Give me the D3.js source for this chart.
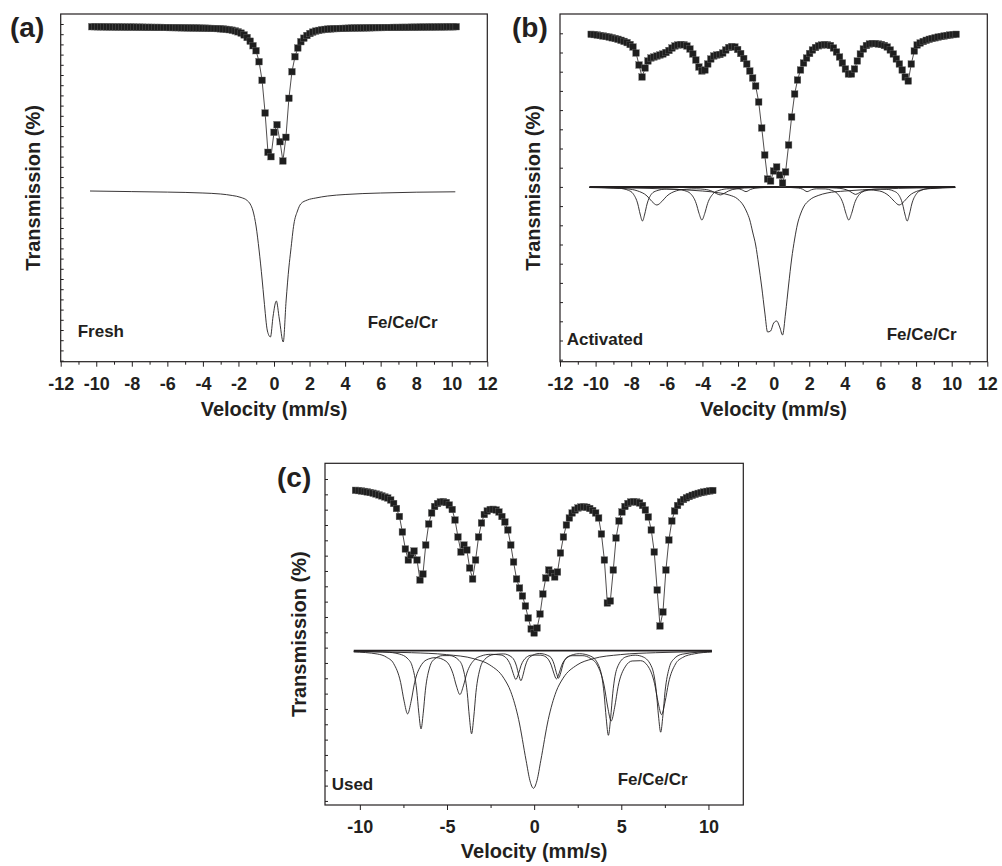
<!DOCTYPE html>
<html>
<head>
<meta charset="utf-8">
<title>Fe/Ce/Cr Mössbauer spectra</title>
<script src="https://cdnjs.cloudflare.com/ajax/libs/d3/7.8.5/d3.min.js"></script>
<style>
  body { margin: 0; background: #fff; }
  svg { display: block; font-family: "Liberation Sans", Arial, sans-serif; }
  .frame { fill: none; stroke: #231f20; stroke-width: 1.2px; }
  .axis path { display: none; }
  .axis line { stroke: #231f20; stroke-width: 1px; }
  .axis text { font-family: "Liberation Sans", Arial, sans-serif; font-size: 18px; font-weight: bold; fill: #231f20; }
  .data-line { fill: none; stroke: #231f20; stroke-width: 0.8px; }
  .point { fill: #1e1e1e; stroke: #666; stroke-width: 0.4px; }
  .fit { fill: none; stroke: #231f20; stroke-width: 0.9px; }
  .fit-base { stroke-width: 1.8px; }
  .title { font-size: 20px; font-weight: bold; fill: #231f20; }
  .tag { font-size: 28px; font-weight: bold; fill: #231f20; }
  .note { font-size: 17px; font-weight: bold; fill: #231f20; }
</style>
</head>
<body>
<svg id="chart" width="1002" height="866"></svg>
<script>
// channel velocities (mm/s), shared by the three spectra
var velocity = [
  -10.25, -10.08, -9.91, -9.74, -9.58, -9.41, -9.24, -9.07, -8.90, -8.74,
  -8.57, -8.40, -8.23, -8.06, -7.90, -7.73, -7.56, -7.39, -7.22, -7.06,
  -6.89, -6.72, -6.55, -6.38, -6.22, -6.05, -5.88, -5.71, -5.54, -5.38,
  -5.21, -5.04, -4.87, -4.70, -4.54, -4.37, -4.20, -4.03, -3.86, -3.70,
  -3.53, -3.36, -3.19, -3.02, -2.86, -2.69, -2.52, -2.35, -2.18, -2.02,
  -1.85, -1.68, -1.51, -1.34, -1.18, -1.01, -0.84, -0.67, -0.50, -0.34,
  -0.17, 0.00, 0.17, 0.34, 0.50, 0.67, 0.84, 1.01, 1.18, 1.34,
  1.51, 1.68, 1.85, 2.02, 2.18, 2.35, 2.52, 2.69, 2.86, 3.02,
  3.19, 3.36, 3.53, 3.70, 3.86, 4.03, 4.20, 4.37, 4.54, 4.70,
  4.87, 5.04, 5.21, 5.38, 5.54, 5.71, 5.88, 6.05, 6.22, 6.38,
  6.55, 6.72, 6.89, 7.06, 7.22, 7.39, 7.56, 7.73, 7.90, 8.06,
  8.23, 8.40, 8.57, 8.74, 8.90, 9.07, 9.24, 9.41, 9.58, 9.74,
  9.91, 10.08, 10.25
];

// measured absorption below the off-resonance level (arb. units, larger = less transmission)
var absFresh = [
  0.0, 0.0, 0.1, 0.1, 0.1, 0.2, 0.2, 0.2, 0.3, 0.3,
  0.3, 0.4, 0.4, 0.4, 0.4, 0.5, 0.5, 0.5, 0.6, 0.6,
  0.6, 0.7, 0.7, 0.7, 0.8, 0.8, 0.9, 0.9, 1.0, 1.0,
  1.1, 1.1, 1.2, 1.2, 1.3, 1.3, 1.4, 1.5, 1.5, 1.6,
  1.7, 1.8, 1.9, 2.1, 2.3, 2.6, 3.0, 3.5, 4.2, 5.1,
  6.4, 8.2, 10.8, 14.5, 19, 24, 35, 53.6, 86.3, 125.6,
  130, 105.6, 98, 115, 134.3, 110.6, 71.6, 45, 30, 21.3,
  15, 11.5, 8.8, 6.8, 5.4, 4.4, 3.7, 3.1, 2.7, 2.4,
  2.2, 2.0, 1.9, 1.8, 1.7, 1.6, 1.5, 1.4, 1.3, 1.3,
  1.2, 1.2, 1.1, 1.1, 1.0, 1.0, 0.9, 0.9, 0.8, 0.8,
  0.8, 0.7, 0.7, 0.7, 0.6, 0.6, 0.6, 0.5, 0.5, 0.5,
  0.4, 0.4, 0.4, 0.3, 0.3, 0.3, 0.2, 0.2, 0.2, 0.1,
  0.1, 0.1, 0.0
];

var absActivated = [
  0.3, 0.6, 1.0, 1.5, 2.0, 2.5, 3.1, 3.8, 4.5, 5.3,
  6.3, 7.4, 8.6, 10.5, 13, 19, 31, 43, 34, 27,
  24, 23, 22, 21, 20, 18.5, 16.5, 14, 12, 11,
  10.5, 10.8, 12, 15, 20, 26, 33, 37, 36, 30,
  25, 22, 21, 20.5, 19, 16, 13.5, 12.5, 13, 15.5,
  19.5, 24.5, 30, 37, 44, 52, 68, 94, 121, 145,
  147, 137, 133, 141, 149, 138, 111, 83, 60, 46,
  36, 29, 24, 19.5, 16, 13.5, 11.8, 11, 10.7, 10.8,
  11.5, 14, 18, 23, 29, 35, 40, 40, 35, 27,
  20, 15, 11.5, 10, 9.5, 9.6, 10, 10.5, 11.5, 13,
  16, 20, 25, 30, 36, 43, 47, 30, 17, 11,
  9, 7.5, 6.3, 5.3, 4.5, 3.8, 3.1, 2.5, 2.0, 1.5,
  1.0, 0.6, 0.3
];

var absUsed = [
  0.3, 0.6, 1.0, 1.4, 1.9, 2.5, 3.2, 4.0, 4.9, 5.9,
  7.0, 8.0, 10, 13.5, 18.5, 26.5, 42, 59, 70, 65,
  61, 70, 90, 84, 55, 34, 23, 16.5, 13.5, 12,
  11.7, 12.5, 15, 19.5, 30, 47, 62, 55, 60, 78,
  89, 70, 47, 33, 24.5, 21, 19.5, 19.3, 20, 22,
  26.5, 32, 40, 55, 72, 89, 98, 106, 116, 128,
  139, 143, 138, 124, 104, 88, 80, 83, 87, 82,
  63, 47, 35, 28, 23, 20, 18, 17, 16.8, 17.3,
  18.5, 20.5, 23, 28, 44, 70, 113, 111, 80, 48,
  31, 22, 16.5, 13.5, 12, 11.7, 12, 13, 15.5, 20,
  27, 40, 62, 100, 136, 122, 80, 50, 31, 21,
  15.5, 12, 9.5, 7.8, 6.5, 5.3, 4.3, 3.4, 2.6, 2.0,
  1.4, 0.9, 0.5
];

// fitted sub-spectra: [velocity, absorption below the shifted fit baseline]
var fitFresh = [
  [-10.35, 0], [-8, 0.6], [-6, 1.1], [-4, 2], [-3, 3], [-2.35, 4.5], [-1.85, 6.5],
  [-1.51, 9.5], [-1.34, 13], [-1.18, 20], [-1.01, 35], [-0.84, 59], [-0.67, 88],
  [-0.56, 109], [-0.37, 140], [-0.2, 146], [-0.05, 125], [0.13, 110], [0.30, 128],
  [0.52, 151], [0.68, 110], [0.84, 76], [0.94, 60], [1.12, 33], [1.32, 20], [1.5, 13],
  [1.88, 9], [2.35, 7], [3.02, 5], [4, 3.5], [6, 2], [8, 1.2], [10.2, 0.8]
];

var fitBaseline = [[-10.35, 0], [10.2, 0]];

var fitActDoublet = [
  [-10.35, 0.5], [-8, 1], [-6, 2], [-4, 4], [-3, 6], [-2.5, 8], [-2.02, 12], [-1.68, 19],
  [-1.51, 25], [-1.34, 33], [-1.18, 45], [-1.01, 58], [-0.84, 78], [-0.67, 100],
  [-0.50, 125], [-0.34, 145], [-0.17, 144], [0, 136], [0.17, 134], [0.34, 140],
  [0.50, 148], [0.67, 126], [0.84, 98], [1.01, 72], [1.18, 52], [1.34, 37], [1.51, 27],
  [1.68, 20], [2.02, 13], [2.5, 8.5], [3, 6], [4, 4], [6, 2], [8, 1], [10.2, 0.5]
];

var fitActSextetA = [
  [-10.35, 0.3], [-8.67, 1.3], [-8.15, 3.4], [-7.89, 6.8], [-7.63, 17], [-7.50, 27],
  [-7.37, 34], [-7.24, 27], [-7.11, 17], [-6.85, 6.8], [-6.59, 3.9], [-6.0, 2.0],
  [-5.4, 2.3], [-4.99, 3.7], [-4.67, 6.6], [-4.35, 16.5], [-4.19, 26.4], [-4.03, 33],
  [-3.87, 26.4], [-3.71, 16.5], [-3.39, 6.6], [-3.07, 3.4], [-2.5, 1.7], [-2.0, 1.7],
  [-1.8, 2.7], [-1.55, 4.6], [-1.3, 2.5], [-1.05, 1.2], [-0.5, 0.5], [0.5, 0.3],
  [1.38, 1.0], [1.63, 2.2], [1.88, 4.6], [2.13, 2.7], [2.4, 1.8], [2.9, 1.9],
  [3.26, 3.4], [3.58, 6.6], [3.90, 16.5], [4.06, 26.4], [4.22, 33], [4.38, 26.4],
  [4.54, 16.5], [4.86, 6.6], [5.18, 3.7], [5.8, 2.1], [6.35, 2.35], [6.72, 3.9],
  [6.98, 6.8], [7.24, 17], [7.37, 27], [7.50, 34], [7.63, 27], [7.76, 17],
  [8.02, 6.8], [8.28, 3.4], [8.8, 1.3], [10.2, 0.3]
];

var fitActSextetB = [
  [-10.35, 0.5], [-9.0, 1.0], [-8.2, 1.9], [-7.66, 3.8], [-7.11, 9], [-6.84, 14.4],
  [-6.56, 18], [-6.28, 14.5], [-6.01, 9.2], [-5.46, 3.8], [-4.9, 2.2], [-4.35, 1.8],
  [-3.9, 2.3], [-3.45, 4.3], [-3.22, 6.5], [-3.0, 7.9], [-2.78, 6.4], [-2.55, 4.1],
  [-2.1, 1.8], [-1.2, 0.7], [0, 0.5], [1.5, 0.4], [2.8, 0.6], [3.55, 1.1], [3.9, 1.85],
  [4.25, 4.0], [4.43, 6.0], [4.6, 7.4], [4.77, 6.2], [4.95, 4.5], [5.3, 2.9],
  [5.95, 4.0], [6.5, 9.2], [6.78, 14.4], [7.05, 18], [7.33, 14.4], [7.6, 9],
  [8.15, 3.6], [8.8, 1.6], [10.2, 0.5]
];

var fitUsedSinglet = [
  [-10.35, 1.0], [-7.04, 2.0], [-5.04, 3.9], [-3.44, 8.1], [-2.54, 14.3], [-1.74, 27.5],
  [-1.34, 41], [-0.89, 68.8], [-0.46, 110], [-0.24, 130], [-0.04, 137.6], [0.16, 130],
  [0.38, 110], [0.81, 68.8], [1.26, 41], [1.66, 27.5], [2.46, 14.3], [3.36, 8.1],
  [4.96, 3.9], [6.96, 2.0], [10.2, 0.9]
];

var fitUsedSextet1 = [
  [-10.35, 1.2], [-9.0, 3.3], [-8.46, 6.6], [-8.06, 12.9], [-7.66, 31.8], [-7.46, 50.5],
  [-7.26, 63.2], [-7.06, 50.7], [-6.86, 32], [-6.46, 13.9], [-6.06, 8.3], [-5.66, 6.9],
  [-5.06, 10.5], [-4.66, 22.8], [-4.46, 35.3], [-4.26, 43.8], [-4.06, 35.2], [-3.86, 22.4],
  [-3.46, 9.6], [-3.06, 5.4], [-2.5, 3.6], [-1.95, 4.2], [-1.65, 6.5], [-1.35, 14.7],
  [-1.2, 22.8], [-1.05, 28.8], [-0.9, 23.1], [-0.75, 14.7], [-0.45, 6.7], [-0.15, 4.5],
  [0.1, 4.4], [0.38, 4.5], [0.68, 6.3], [0.98, 14.4], [1.13, 22.6], [1.28, 28.2],
  [1.43, 22.7], [1.58, 14.6], [1.88, 7.2], [2.18, 5.0], [2.8, 5], [3.22, 7.6],
  [3.62, 14.4], [4.02, 35.3], [4.22, 56.3], [4.42, 70.3], [4.62, 56.5], [4.82, 35.6],
  [5.22, 16.2], [5.62, 10.3], [6.11, 10], [6.51, 15], [6.91, 33], [7.11, 51.5],
  [7.31, 63.9], [7.51, 51.2], [7.71, 32.3], [8.11, 13.3], [8.51, 6.9], [9.2, 3.1],
  [10.2, 1.3]
];

var fitUsedSextet2 = [
  [-10.35, 0.5], [-8.5, 1.4], [-7.74, 3.3], [-7.24, 8.2], [-6.99, 15.9], [-6.74, 39.3],
  [-6.615, 62.5], [-6.49, 78.2], [-6.365, 62.6], [-6.24, 39.5], [-5.99, 16.3], [-5.74, 8.7],
  [-5.24, 4.9], [-4.84, 4.9], [-4.34, 9.2], [-4.09, 17.2], [-3.84, 41.9], [-3.715, 66.5],
  [-3.59, 83.1], [-3.465, 66.5], [-3.34, 41.8], [-3.09, 17], [-2.84, 8.8], [-2.34, 3.9],
  [-1.76, 3.2], [-1.26, 6.8], [-1.01, 15.5], [-0.885, 24.1], [-0.76, 30], [-0.635, 24.1],
  [-0.51, 15.4], [-0.26, 6.5], [0.3, 2.8], [0.9, 5.8], [1.15, 13.8], [1.275, 22],
  [1.40, 27.4], [1.525, 22.1], [1.65, 14], [1.9, 6.3], [2.6, 3.0], [3.26, 5.6],
  [3.76, 17.3], [4.01, 42.5], [4.135, 67.7], [4.26, 84.6], [4.385, 67.8], [4.51, 42.5],
  [4.76, 17.3], [5.26, 6.2], [5.8, 4.5], [6.26, 6.3], [6.76, 17], [7.01, 41],
  [7.135, 65.3], [7.26, 81.5], [7.385, 65.2], [7.51, 40.9], [7.76, 16.5], [8.01, 8.4],
  [8.5, 3.5], [10.2, 0.7]
];

// tick labels
var ticksWide = [-12, -10, -8, -6, -4, -2, 0, 2, 4, 6, 8, 10, 12];
var minorWide = [-11, -9, -7, -5, -3, -1, 1, 3, 5, 7, 9, 11];
var ticksUsed = [-10, -5, 0, 5, 10];
var minorUsed = [-7.5, -2.5, 2.5, 7.5];

var panels = [
  { tag: "(a)", sample: "Fresh", alloy: "Fe/Ce/Cr", absorption: absFresh,
    fits: [fitFresh], baseIndex: -1, fitOffset: 164.3,
    left: 60.7, top: 14, width: 426.6, height: 347.7, yDomain: [-12.7, 335],
    yTickStart: -2.7, yTickStep: 10.2, xMajor: ticksWide, xMinor: minorWide,
    tagX: 10, tagY: 37, yTitleX: 39.5, sampleX: 77.7, sampleY: 337, alloyX: 367.7, alloyY: 328,
    titleY: 416 },
  { tag: "(b)", sample: "Activated", alloy: "Fe/Ce/Cr", absorption: absActivated,
    fits: [fitBaseline, fitActDoublet, fitActSextetA, fitActSextetB], baseIndex: 0, fitOffset: 153,
    left: 560, top: 14, width: 427.3, height: 347.7, yDomain: [-20, 327.7],
    yTickStart: -0.7, yTickStep: 19.2, xMajor: ticksWide, xMinor: minorWide,
    tagX: 512, tagY: 37, yTitleX: 539.5, sampleX: 566.7, sampleY: 345, alloyX: 886.7, alloyY: 340,
    titleY: 416 },
  { tag: "(c)", sample: "Used", alloy: "Fe/Ce/Cr", absorption: absUsed,
    fits: [fitBaseline, fitUsedSinglet, fitUsedSextet1, fitUsedSextet2], baseIndex: 0, fitOffset: 160.7,
    left: 325, top: 463.3, width: 418.3, height: 341.7, yDomain: [-26.7, 315],
    yTickStart: -11, yTickStep: 15.33, xMajor: ticksUsed, xMinor: minorUsed,
    tagX: 277, tagY: 487, yTitleX: 306, sampleX: 331.7, sampleY: 790, alloyX: 617.7, alloyY: 785,
    titleY: 858 }
];

var svg = d3.select("#chart");

function translate(x, y) {
  return "translate(" + x + "," + y + ")";
}

panels.forEach(function(p) {
  var x = d3.scaleLinear().domain([-12, 12]).range([0, p.width]);
  var y = d3.scaleLinear().domain(p.yDomain).range([0, p.height]);

  var g = svg.append("g").attr("transform", translate(p.left, p.top));

  // axes
  g.append("g")
      .attr("class", "axis")
      .attr("transform", translate(0, p.height))
      .call(d3.axisBottom(x).tickValues(p.xMajor).tickSize(5).tickPadding(10.4)
        .tickFormat(function(d) { return String(d); }));
  g.append("g")
      .attr("class", "axis")
      .attr("transform", translate(0, p.height))
      .call(d3.axisBottom(x).tickValues(p.xMinor).tickSize(3).tickFormat(""));
  g.append("g")
      .attr("class", "axis")
      .call(d3.axisLeft(y).tickValues(d3.range(p.yTickStart, p.yDomain[1], p.yTickStep))
        .tickSizeInner(-3).tickSizeOuter(0).tickFormat(""));

  g.append("rect")
      .attr("class", "frame")
      .attr("width", p.width)
      .attr("height", p.height);

  // fitted components, drawn shifted below the data
  var fitLine = d3.line()
      .curve(d3.curveMonotoneX)
      .x(function(d) { return x(d[0]); })
      .y(function(d) { return y(p.fitOffset + d[1]); });
  p.fits.forEach(function(f, i) {
    g.append("path")
        .datum(f)
        .attr("class", i === p.baseIndex ? "fit fit-base" : "fit")
        .attr("d", fitLine);
  });

  // measured spectrum
  var pts = velocity.map(function(v, i) { return [v, p.absorption[i]]; });
  var dataLine = d3.line()
      .x(function(d) { return x(d[0]); })
      .y(function(d) { return y(d[1]); });
  g.append("path")
      .datum(pts)
      .attr("class", "data-line")
      .attr("d", dataLine);

  var s = 6.6;
  g.selectAll(".point")
      .data(pts)
    .enter().append("rect")
      .attr("class", "point")
      .attr("x", function(d) { return x(d[0]) - s / 2; })
      .attr("y", function(d) { return y(d[1]) - s / 2; })
      .attr("width", s)
      .attr("height", s);

  // texts
  svg.append("text")
      .attr("class", "tag")
      .attr("x", p.tagX)
      .attr("y", p.tagY)
      .text(p.tag);
  svg.append("text")
      .attr("class", "title")
      .attr("text-anchor", "middle")
      .attr("x", p.left + p.width / 2)
      .attr("y", p.titleY)
      .text("Velocity (mm/s)");
  svg.append("text")
      .attr("class", "title")
      .attr("text-anchor", "middle")
      .attr("transform", translate(p.yTitleX, p.top + p.height / 2) + " rotate(-90)")
      .text("Transmission (%)");
  svg.append("text")
      .attr("class", "note")
      .attr("x", p.sampleX)
      .attr("y", p.sampleY)
      .text(p.sample);
  svg.append("text")
      .attr("class", "note")
      .attr("x", p.alloyX)
      .attr("y", p.alloyY)
      .text(p.alloy);
});
</script>
</body>
</html>
